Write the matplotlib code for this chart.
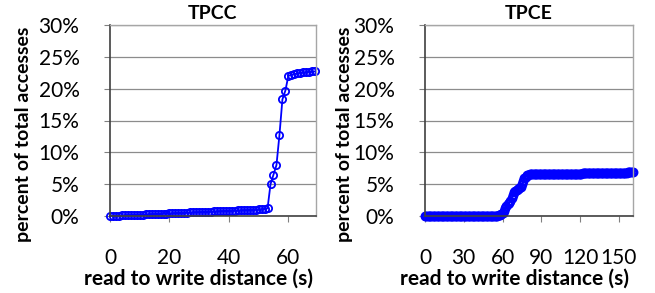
import matplotlib
matplotlib.use("Agg")
import matplotlib.pyplot as plt
from matplotlib.ticker import FuncFormatter

# ---- data ----
tpcc_x = list(range(0, 70))
tpcc_y = [0.00, 0.03, 0.05, 0.07, 0.09, 0.11, 0.13, 0.15, 0.17, 0.19,
          0.21, 0.23, 0.25, 0.27, 0.29, 0.31, 0.33, 0.35, 0.37, 0.39,
          0.41, 0.43, 0.45, 0.47, 0.49, 0.51, 0.53, 0.55, 0.57, 0.59,
          0.61, 0.63, 0.65, 0.67, 0.69, 0.71, 0.73, 0.75, 0.77, 0.79,
          0.81, 0.83, 0.85, 0.87, 0.89, 0.91, 0.93, 0.95, 0.98, 1.01,
          1.04, 1.07, 1.10, 1.20,
          5.0, 6.5, 8.0, 12.7, 18.3, 19.7, 22.0,
          22.2, 22.3, 22.4, 22.5, 22.55, 22.6, 22.65, 22.7, 22.7]

tpce_x = list(range(0, 162))
tpce_y = ([0.0] * 56 +
          [0.05, 0.1, 0.2, 0.3, 0.5, 0.8, 1.2, 1.6, 1.9, 2.1,
           2.4, 2.9, 3.3, 3.7, 3.9, 4.1, 4.3, 4.4, 4.6, 5.0,
           5.5, 5.9, 6.2, 6.4, 6.5, 6.55] +
          [6.6] * 25 + [6.65] * 15 + [6.7] * 15 + [6.75] * 10 +
          [6.8] * 10 + [6.85] * 5)

tpcc_xticks = [0, 20, 40, 60]
tpce_xticks = [0, 30, 60, 90, 120, 150]
yticks = [0, 5, 10, 15, 20, 25, 30]

W, H = 655, 293
plt.rcParams['font.family'] = ['Lato', 'DejaVu Sans']
fig = plt.figure(figsize=(W / 100, H / 100), dpi=100)

blue = '#0000FF'
pct = FuncFormatter(lambda v, p: f"{int(round(v))}%")


def setup(ax, title, xticks, xmax, ylab_x, xlab_x):
    ax.set_ylim(0, 30)
    ax.set_xlim(0, xmax)
    ax.set_yticks(yticks)
    ax.yaxis.set_major_formatter(pct)
    ax.set_xticks(xticks)
    ax.grid(axis='y', color='#8c8c8c', linewidth=0.9)
    ax.set_axisbelow(True)
    for s in ['top', 'right']:
        ax.spines[s].set_color('#a6a6a6')
        ax.spines[s].set_linewidth(1.0)
    for s in ['left', 'bottom']:
        ax.spines[s].set_color('#404040')
        ax.spines[s].set_linewidth(1.2)
    ax.tick_params(axis='y', length=4, color='#808080', labelsize=15, pad=18)
    ax.tick_params(axis='x', length=4, color='#808080', labelsize=15, pad=19)
    ax.set_title(title, fontsize=14, fontweight='bold', pad=4)
    ax.set_ylabel('percent of total accesses', fontsize=14, fontweight='bold')
    ax.set_xlabel('read to write distance (s)', fontsize=15, fontweight='bold')
    ax.yaxis.set_label_coords(ylab_x, 0.43)
    ax.xaxis.set_label_coords(xlab_x, -0.275)


ax1 = fig.add_axes([110 / W, 1 - 216 / H, 206 / W, 191 / H])
ax1.plot(tpcc_x, tpcc_y, color=blue, linewidth=1.3, marker='o',
         markersize=5.2, markerfacecolor='none', markeredgecolor=blue,
         markeredgewidth=1.3, clip_on=False)
setup(ax1, 'TPCC', tpcc_xticks, 69.3, -0.38, 0.43)

ax2 = fig.add_axes([425 / W, 1 - 216 / H, 208 / W, 191 / H])
ax2.plot(tpce_x, tpce_y, color=blue, linewidth=1.3, marker='o',
         markersize=5.5, markerfacecolor='none', markeredgecolor=blue,
         markeredgewidth=1.6, clip_on=False)
setup(ax2, 'TPCE', tpce_xticks, 161, -0.345, 0.43)

fig.savefig('out.png', dpi=100)
